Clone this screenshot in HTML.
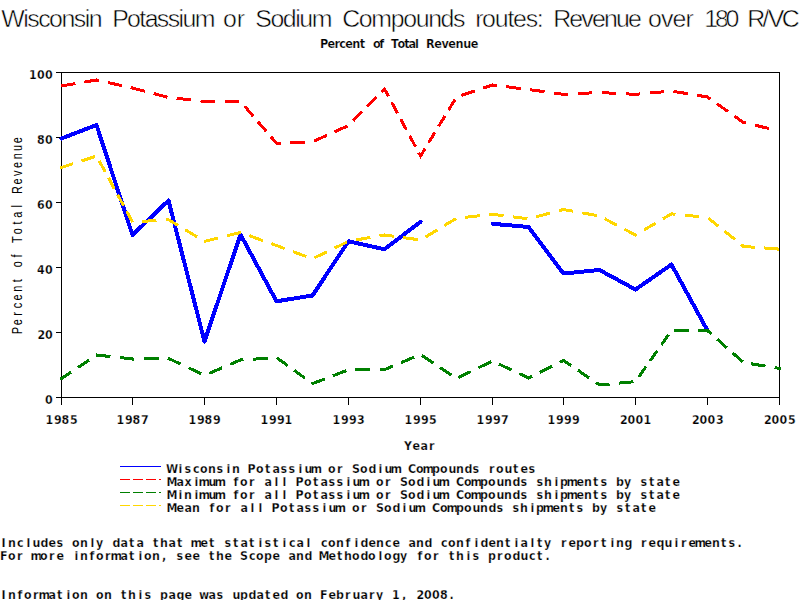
<!DOCTYPE html>
<html><head><meta charset="utf-8"><title>Wisconsin Potassium or Sodium Compounds routes: Revenue over 180 R/VC</title>
<style>html,body{margin:0;padding:0;background:#fff;overflow:hidden;} svg{display:block;}</style></head>
<body>
<svg width="800" height="600" viewBox="0 0 800 600" shape-rendering="crispEdges">
<rect width="800" height="600" fill="#fff"/>
<text transform="translate(0,27) scale(1.0386,1)" x="1.16 22.37 26.21 36.74 47.27 59.15 71.04 81.57 85.41 89.26 108.01 122.39 134.15 139.27 151.02 161.44 171.85 175.65 187.40 191.25 214.75 228.07 231.92 245.68 260.35 272.33 284.31 288.19 300.17 304.02 329.44 345.49 357.49 376.23 388.23 400.24 412.24 424.25 436.25 440.10 457.49 464.18 476.38 488.58 493.90 506.10 516.92 520.77 532.65 548.12 559.70 569.96 581.53 593.11 604.69 608.54 624.04 636.51 647.55 660.01 663.86 678.15 688.38 698.61 702.46 719.49 734.28 739.11 752.67" y="0" font-family="'Liberation Sans', sans-serif" font-size="24" font-weight="normal" stroke="#fff" stroke-width="0.5">Wisconsin Potassium or Sodium Compounds routes: Revenue over 180 R/VC</text>
<text transform="translate(0,48) scale(1.0196,1)" x="313.78 321.24 328.09 332.81 338.67 345.51 352.73 356.66 365.81 371.99 375.92 383.47 389.91 396.41 400.67 407.04 410.96 417.70 425.87 432.96 439.73 446.81 454.29 461.77" y="0" font-family="'DejaVu Sans', sans-serif" font-size="12.3" font-weight="bold" font-stretch="condensed" stroke="#fff" stroke-width="0.25">Percent of Total Revenue</text>
<path d="M61.5,72V405M779.5,72V405M56,72.5H780M56,397.5H780" stroke="#000" stroke-width="1" fill="none"/>
<path d="M56,72.5H61M56,137.5H61M56,202.5H61M56,267.5H61M56,332.5H61M56,397.5H61M61.5,398V405M132.5,398V405M204.5,398V405M276.5,398V405M348.5,398V405M420.5,398V405M492.5,398V405M563.5,398V405M635.5,398V405M707.5,398V405M779.5,398V405" stroke="#000" stroke-width="1" fill="none"/>
<polyline points="61.5,138.5 96.5,125.0 132.5,235.0 168.5,200.5 204.5,341.5 240.5,234.5 276.5,301.3 312.5,295.5 348.5,241.3 384.5,249.3 420.5,221.8" fill="none" stroke="#0000ff" stroke-width="4" stroke-linejoin="round" stroke-linecap="round"/>
<polyline points="492.5,223.8 528.5,227.0 563.5,273.5 599.5,270.0 635.5,289.5 671.5,264.5 707.5,330.5" fill="none" stroke="#0000ff" stroke-width="4" stroke-linejoin="round" stroke-linecap="round"/>
<path d="M62.5,85.8 L74.0,83.9 M85.9,81.8 L96.5,80.0 L97.4,80.2 M109.2,82.8 L120.5,85.3 M132.3,87.9 L132.5,88.0 L143.4,90.9 M155.0,93.9 L166.1,96.9 M178.1,98.5 L189.8,99.8 M202.0,101.1 L204.5,101.4 L213.7,101.4 M226.0,101.4 L237.8,101.4 M245.7,107.4 L252.1,114.9 M258.7,122.6 L265.1,130.0 M271.8,137.8 L276.5,143.3 L279.5,143.2 M291.8,142.7 L303.6,142.2 M315.4,140.5 L325.5,135.9 M336.0,131.2 L346.1,126.6 M354.1,119.8 L361.1,112.7 M368.4,105.3 L375.4,98.2 M382.7,90.8 L384.5,89.0 L387.8,95.1 M392.4,103.7 L396.8,111.9 M401.4,120.4 L405.8,128.6 M410.4,137.2 L414.8,145.4 M419.4,153.9 L420.5,156.0 L424.2,150.0 M429.3,141.6 L434.2,133.6 M439.3,125.2 L444.2,117.2 M449.3,108.8 L454.2,100.8 M462.7,94.9 L473.5,91.3 M484.7,87.6 L492.5,85.0 L495.7,85.4 M507.8,86.9 L519.4,88.4 M531.5,89.9 L543.1,91.5 M555.2,93.2 L563.5,94.3 L566.9,94.1 M579.1,93.5 L590.9,92.9 M603.1,92.7 L614.9,93.3 M627.1,93.9 L635.5,94.3 L638.9,94.0 M651.1,92.9 L662.8,91.8 M674.9,91.6 L686.4,93.5 M698.4,95.5 L707.5,97.0 L709.3,98.3 M718.2,104.6 L726.8,110.7 M735.7,117.0 L743.5,122.5 L744.6,122.7 M756.3,125.5 L767.5,128.2" fill="none" stroke="#ff0000" stroke-width="3" stroke-linejoin="miter" stroke-linecap="square"/>
<path d="M61.5,378.6 L69.9,372.9 M79.1,366.7 L87.9,360.8 M97.3,355.1 L109.0,356.4 M121.2,357.7 L132.5,359.0 L132.9,359.0 M145.3,358.8 L157.1,358.6 M169.3,358.8 L179.3,363.5 M189.8,368.4 L199.8,373.1 M210.5,372.8 L220.8,368.4 M231.5,363.8 L240.5,360.0 L242.0,359.9 M254.3,359.1 L266.1,358.3 M277.9,358.6 L286.4,364.7 M295.3,371.2 L303.8,377.3 M312.8,383.5 L323.3,379.5 M334.3,375.2 L344.9,371.2 M356.8,369.8 L368.6,369.7 M381.0,369.6 L384.5,369.6 L391.7,366.6 M402.5,362.0 L412.8,357.7 M423.1,356.2 L432.0,362.1 M441.2,368.3 L450.0,374.1 M459.6,377.0 L469.5,372.2 M479.9,367.1 L489.8,362.3 M500.2,364.7 L510.2,369.4 M520.7,374.3 L528.5,378.0 L530.7,376.9 M541.0,371.7 L550.8,366.8 M561.0,361.6 L563.5,360.4 L570.0,364.9 M579.2,371.1 L587.9,377.1 M597.1,383.3 L599.5,385.0 L608.0,384.2 M620.2,383.0 L632.0,381.9 M639.6,375.7 L645.1,367.9 M650.9,359.7 L656.4,351.9 M662.2,343.7 L667.7,335.8 M675.7,330.4 L687.5,330.5 M699.9,330.6 L707.5,330.6 L710.2,333.0 M718.2,340.1 L725.8,346.9 M733.8,353.9 L741.5,360.7 M752.5,364.0 L764.0,365.9 M776.1,367.9 L779.5,368.5" fill="none" stroke="#008000" stroke-width="3" stroke-linejoin="miter" stroke-linecap="square"/>
<path d="M61.5,167.5 L71.6,164.2 M82.9,160.5 L93.7,156.9 M100.0,162.4 L104.5,170.6 M109.2,179.2 L113.6,187.4 M118.3,196.0 L122.8,204.2 M127.4,212.7 L131.9,220.9 M143.3,221.3 L155.0,220.6 M167.3,219.8 L168.5,219.7 L176.8,224.7 M186.4,230.5 L195.7,236.0 M205.5,241.1 L216.7,238.3 M228.4,235.4 L239.7,232.7 M250.8,236.2 L261.5,240.1 M272.6,244.1 L276.5,245.5 L283.2,248.0 M294.3,252.1 L304.9,256.0 M315.7,257.2 L325.6,252.4 M336.0,247.4 L345.9,242.6 M357.5,239.7 L369.0,237.7 M381.0,235.6 L384.5,235.0 L392.6,236.1 M404.7,237.8 L416.3,239.4 M426.8,236.2 L436.0,230.7 M445.6,224.8 L454.8,219.3 M466.6,217.2 L478.3,215.9 M490.5,214.5 L492.5,214.3 L502.1,215.5 M514.3,217.0 L526.0,218.5 M537.7,216.4 L548.8,213.4 M560.5,210.3 L563.5,209.5 L571.9,211.0 M583.9,213.2 L595.3,215.2 M606.1,219.5 L615.7,224.6 M625.8,229.9 L635.5,235.0 M645.2,229.3 L654.5,223.8 M664.2,218.1 L671.5,213.8 L674.0,214.1 M686.2,215.3 L697.9,216.5 M709.3,219.0 L717.4,225.4 M725.8,232.2 L733.9,238.7 M742.3,245.4 L743.5,246.4 L753.5,247.2 M765.8,248.1 L777.5,249.0" fill="none" stroke="#ffd700" stroke-width="3" stroke-linejoin="miter" stroke-linecap="square"/>
<text x="29 37 45" y="79" font-family="'DejaVu Sans', sans-serif" font-weight="bold" font-stretch="condensed" font-size="12.3" stroke="#fff" stroke-width="0.25">100</text>
<text x="37 45" y="144" font-family="'DejaVu Sans', sans-serif" font-weight="bold" font-stretch="condensed" font-size="12.3" stroke="#fff" stroke-width="0.25">80</text>
<text x="37 45" y="209" font-family="'DejaVu Sans', sans-serif" font-weight="bold" font-stretch="condensed" font-size="12.3" stroke="#fff" stroke-width="0.25">60</text>
<text x="37 45" y="274" font-family="'DejaVu Sans', sans-serif" font-weight="bold" font-stretch="condensed" font-size="12.3" stroke="#fff" stroke-width="0.25">40</text>
<text x="37.5 45" y="339" font-family="'DejaVu Sans', sans-serif" font-weight="bold" font-stretch="condensed" font-size="12.3" stroke="#fff" stroke-width="0.25">20</text>
<text x="45" y="404" font-family="'DejaVu Sans', sans-serif" font-weight="bold" font-stretch="condensed" font-size="12.3" stroke="#fff" stroke-width="0.25">0</text>
<text x="45.5 54 61.5 70" y="424" font-family="'DejaVu Sans', sans-serif" font-weight="bold" font-stretch="condensed" font-size="12.3" stroke="#fff" stroke-width="0.25">1985</text>
<text x="116.5 125 132.5 141" y="424" font-family="'DejaVu Sans', sans-serif" font-weight="bold" font-stretch="condensed" font-size="12.3" stroke="#fff" stroke-width="0.25">1987</text>
<text x="188.5 197 204.5 213" y="424" font-family="'DejaVu Sans', sans-serif" font-weight="bold" font-stretch="condensed" font-size="12.3" stroke="#fff" stroke-width="0.25">1989</text>
<text x="260.5 269 277 284.5" y="424" font-family="'DejaVu Sans', sans-serif" font-weight="bold" font-stretch="condensed" font-size="12.3" stroke="#fff" stroke-width="0.25">1991</text>
<text x="332.5 341 349 357" y="424" font-family="'DejaVu Sans', sans-serif" font-weight="bold" font-stretch="condensed" font-size="12.3" stroke="#fff" stroke-width="0.25">1993</text>
<text x="404.5 413 421 429" y="424" font-family="'DejaVu Sans', sans-serif" font-weight="bold" font-stretch="condensed" font-size="12.3" stroke="#fff" stroke-width="0.25">1995</text>
<text x="476.5 485 493 501" y="424" font-family="'DejaVu Sans', sans-serif" font-weight="bold" font-stretch="condensed" font-size="12.3" stroke="#fff" stroke-width="0.25">1997</text>
<text x="547.5 556 564 572" y="424" font-family="'DejaVu Sans', sans-serif" font-weight="bold" font-stretch="condensed" font-size="12.3" stroke="#fff" stroke-width="0.25">1999</text>
<text x="620 627.5 635.5 643.5" y="424" font-family="'DejaVu Sans', sans-serif" font-weight="bold" font-stretch="condensed" font-size="12.3" stroke="#fff" stroke-width="0.25">2001</text>
<text x="692 699.5 707.5 716" y="424" font-family="'DejaVu Sans', sans-serif" font-weight="bold" font-stretch="condensed" font-size="12.3" stroke="#fff" stroke-width="0.25">2003</text>
<text x="764 771.5 779.5 788" y="424" font-family="'DejaVu Sans', sans-serif" font-weight="bold" font-stretch="condensed" font-size="12.3" stroke="#fff" stroke-width="0.25">2005</text>
<text x="404 412.5 420.5 429" y="450" font-family="'DejaVu Sans', sans-serif" font-weight="bold" font-stretch="condensed" font-size="12.3" stroke="#fff" stroke-width="0.25">Year</text>
<text transform="translate(22,334.6) rotate(-90) scale(0.78,1)" x="0.31 11.92 24.04 33.65 43.77 54.88 67.00 74.31 86.23 98.85 106.15 117.58 128.69 141.31 149.92 163.04 169.85 180.27 192.38 203.50 213.62 224.73 235.35 245.46" y="0" font-family="'Liberation Sans', sans-serif" font-size="14" font-weight="normal">Percent of Total Revenue</text>
<path d="M120,466.5H161" stroke="#0000ff" stroke-width="1"/>
<text x="166 178.5 184.5 193 200 208 216.5 226.5 232 240 247.5 256 265 272.5 280.5 288.5 298.5 304.5 310.5 320 328 337 344 352 360 368.5 378.5 384.5 390.5 400 408 416 422.5 432 440 448.5 456 464.5 472.5 480 489 496 504.5 513 520.5 528.5" y="473" font-family="'DejaVu Sans', sans-serif" font-weight="bold" font-stretch="condensed" font-size="12.3" stroke="#fff" stroke-width="0.25">Wisconsin Potassium or Sodium Compounds routes</text>
<path d="M120,479.5H161" stroke="#ff0000" stroke-width="1" stroke-dasharray="10 3"/>
<text x="166.5 176.5 184.5 194.5 198.5 208.5 214.5 224 233.5 240 249 256 264.5 274.5 282.5 288 295.5 304 313 320.5 328.5 336.5 346.5 352.5 358.5 368 376 385 392 400 408 416.5 426.5 432.5 438.5 448 456 464 470.5 480 488 496.5 504 512.5 520.5 528 536.5 544 554.5 560 566.5 576.5 584 593 600.5 608 616 624 632 640.5 649 656.5 665 672.5" y="486" font-family="'DejaVu Sans', sans-serif" font-weight="bold" font-stretch="condensed" font-size="12.3" stroke="#fff" stroke-width="0.25">Maximum for all Potassium or Sodium Compounds shipments by state</text>
<path d="M120,492.5H161" stroke="#008000" stroke-width="1" stroke-dasharray="10 3"/>
<text x="166.5 178.5 184 194.5 198.5 208.5 214.5 224 233.5 240 249 256 264.5 274.5 282.5 288 295.5 304 313 320.5 328.5 336.5 346.5 352.5 358.5 368 376 385 392 400 408 416.5 426.5 432.5 438.5 448 456 464 470.5 480 488 496.5 504 512.5 520.5 528 536.5 544 554.5 560 566.5 576.5 584 593 600.5 608 616 624 632 640.5 649 656.5 665 672.5" y="499" font-family="'DejaVu Sans', sans-serif" font-weight="bold" font-stretch="condensed" font-size="12.3" stroke="#fff" stroke-width="0.25">Minimum for all Potassium or Sodium Compounds shipments by state</text>
<path d="M120,505.5H161" stroke="#ffd700" stroke-width="1" stroke-dasharray="10 3"/>
<text x="166.5 176.5 184.5 192 200 209.5 216 225 232 240.5 250.5 258.5 264 271.5 280 289 296.5 304.5 312.5 322.5 328.5 334.5 344 352 361 368 376 384 392.5 402.5 408.5 414.5 424 432 440 446.5 456 464 472.5 480 488.5 496.5 504 512.5 520 530.5 536 542.5 552.5 560 569 576.5 584 592 600 608 616.5 625 632.5 641 648.5" y="512" font-family="'DejaVu Sans', sans-serif" font-weight="bold" font-stretch="condensed" font-size="12.3" stroke="#fff" stroke-width="0.25">Mean for all Potassium or Sodium Compounds shipments by state</text>
<text x="1.5 8 17 26.5 32.5 40.5 48.5 56.5 64 72 80 90.5 96 104 112.5 120.5 129 136.5 144 153 160 168.5 177 184 190.5 200.5 209 216 224.5 233 240.5 249 258.5 264.5 273 282.5 289 296.5 306.5 312 321 328 336 345.5 354.5 360.5 368.5 376 385 392.5 400 408.5 416 424.5 432 441 448 456 465.5 474.5 480.5 488.5 496 505 514.5 520.5 530.5 537 544 552 561 568.5 576 584 593 601 610.5 616 624.5 632 641 648.5 656.5 664.5 674.5 681 688.5 694.5 704.5 712 721 728.5 737.5" y="547" font-family="'DejaVu Sans', sans-serif" font-weight="bold" font-stretch="condensed" font-size="12.3" stroke="#fff" stroke-width="0.25">Includes only data that met statistical confidence and confidentialty reporting requirements.</text>
<text x="0 8 17 24 30.5 40 49 56.5 64 74.5 80 89.5 96 105 110.5 120.5 129 138.5 144 152 162 168 176.5 184.5 192.5 200 209 216 224.5 232 240 249 256 264 272.5 280 288.5 296 304.5 312 318.5 328.5 337 344 352 360.5 368 378.5 384 392.5 400 408 417.5 424 433 440 449 456 466.5 472.5 480 488 497 504 512.5 520.5 529 537 545.5" y="560" font-family="'DejaVu Sans', sans-serif" font-weight="bold" font-stretch="condensed" font-size="12.3" stroke="#fff" stroke-width="0.25">For more information, see the Scope and Methodology for this product.</text>
<text x="1.5 8 17.5 24 33 38.5 48.5 57 66.5 72 80 88 96 104 112 121 128 138.5 144.5 152 160 168.5 176.5 184.5 192 199 208.5 216.5 224 232.5 240 248.5 256.5 265 272.5 280.5 288 296 304 312 320 328.5 336 345 352.5 360.5 369 376 384 392 402 408 416.5 424 432 440 449.5" y="599" font-family="'DejaVu Sans', sans-serif" font-weight="bold" font-stretch="condensed" font-size="12.3" stroke="#fff" stroke-width="0.25">Information on this page was updated on February 1, 2008.</text>
</svg>
</body></html>
